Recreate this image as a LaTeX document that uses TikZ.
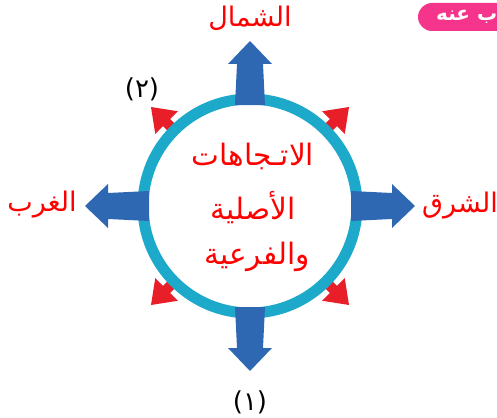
\documentclass[tikz,border=0pt]{standalone}
\usepackage{fontspec}
\newfontfamily\arabicfont[Script=Arabic]{DejaVu Sans}
\TeXXeTstate=1
\definecolor{ringc}{RGB}{29,169,201}
\definecolor{bluea}{RGB}{46,104,178}
\definecolor{reda}{RGB}{232,30,40}
\definecolor{pinkb}{RGB}{245,52,140}
\begin{document}
\begin{tikzpicture}[x=1pt,y=-1pt,
  lbl/.style={font=\arabicfont\fontsize{27}{32}\selectfont, text=red, inner sep=0pt},
  midlbl/.style={font=\arabicfont\fontsize{29.5}{34}\selectfont, text=red, inner sep=0pt},
  numlbl/.style={font=\arabicfont\fontsize{26}{30}\selectfont, text=black, inner sep=0pt}]
\useasboundingbox (0,0) rectangle (497,417);
% red diagonal arrows
\foreach \a in {45,135,225,315}{
  \fill[reda, shift={(250,206)}, rotate=\a]
    (95,-5) -- (118,-5) -- (118,-16) -- (140,0) -- (118,16) -- (118,5) -- (95,5) -- cycle;
}
% ring
\draw[ringc, line width=11pt, fill=white] (250,206) circle[radius=107];
% blue main arrows
\foreach \a in {0,90,180,270}{
  \fill[bluea, shift={(250,206)}, rotate=\a]
    (101,-15) -- (142,-13) -- (142,-22) -- (165,0) -- (142,22) -- (142,13) -- (101,15) -- cycle;
}
% labels
\node[lbl] (north) at (250,18) {\beginR الشمال\endR};
\node[lbl] (west) at (42,205) {\beginR الغرب\endR};
\node[lbl] (east) at (460,206) {\beginR الشرق\endR};
\node[midlbl] (t1) at (253,156) {\beginR الاتـجاهات\endR};
\node[midlbl] (t2) at (253,208) {\beginR الأصلية\endR};
\node[midlbl] (t3) at (257,257) {\beginR والفرعية\endR};
\node[numlbl] (n2) at (142,89) {(٢)};
\node[numlbl] (n1) at (250,402) {(١)};
% pink answer box
\begin{scope}
  \clip (0,0) rectangle (497,417);
  \fill[pinkb, rounded corners=14pt] (418,3) rectangle (530,31);
  \node[text=white, font=\arabicfont\bfseries\fontsize{20}{24}\selectfont, anchor=west, inner sep=0pt] (ans) at (436,17) {\beginR ب عنه\endR};
\end{scope}
\end{tikzpicture}
\end{document}
